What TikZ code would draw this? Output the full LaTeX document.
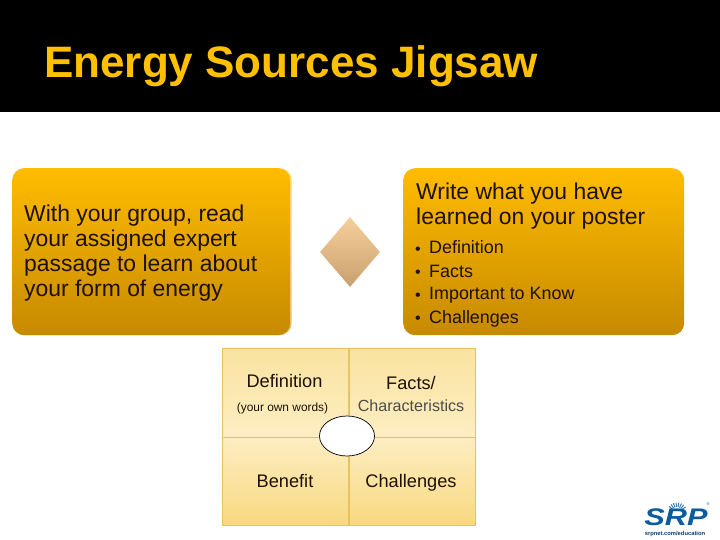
\documentclass[tikz,border=0pt]{standalone}
\usepackage{fontspec}
\setmainfont{Liberation Sans}
\usetikzlibrary{shapes.geometric}
\definecolor{titlegold}{HTML}{FFC000}
\definecolor{boxtop}{HTML}{FFBC00}
\definecolor{boxbottom}{HTML}{C68A00}
\definecolor{inktext}{HTML}{1E1005}
\definecolor{gridline}{HTML}{E6C25A}
\definecolor{srpblue}{HTML}{0B5C9E}
\definecolor{celltop}{HTML}{FAE3A0}
\definecolor{cellmid}{HTML}{FDEEC2}
\definecolor{celllow}{HTML}{F8D97F}
\definecolor{linktop}{HTML}{F6D09A}
\definecolor{linkbottom}{HTML}{C8A070}
\tikzset{
  goldbox/.style={rounded corners=12pt, top color=boxtop, bottom color=boxbottom, draw=none, inner sep=0pt,
    minimum height=167pt, anchor=north west},
  gridcell/.style 2 args={draw=gridline, line width=0.8pt, top color=#1, bottom color=#2, inner sep=0pt,
    minimum width=126pt, minimum height=88.5pt, anchor=north west},
  boxtext/.style={anchor=north west, inner sep=0pt, align=left, text=inktext},
  celltext/.style={anchor=base, inner sep=0pt, text=inktext, font=\fontsize{18.2}{20}\selectfont},
  listtext/.style={anchor=base west, inner sep=0pt, text=inktext, font=\fontsize{17.9}{20}\selectfont},
}
\begin{document}
\begin{tikzpicture}[x=1pt, y=-1pt]
  \useasboundingbox (0,0) rectangle (720,540);
  \fill[white] (0,0) rectangle (720,540);
  \fill[black] (0,0) rectangle (720,112);
  \node[anchor=base west, inner sep=0pt, text=titlegold, font=\fontsize{44}{48}\selectfont\bfseries] (title) at (44,78) {Energy Sources Jigsaw};

  % left box with its thin back edge
  \node[goldbox, minimum width=279pt, top color=boxtop!55!white, bottom color=boxbottom!55!white] (leftback) at (12.5,168) {};
  \node[goldbox, minimum width=278pt] (leftbox) at (12,168) {};
  \node[boxtext, font=\fontsize{22.9}{25}\selectfont] (lefttext) at (24,205)
    {With your group, read\\your assigned expert\\passage to learn about\\your form of energy};

  \node[diamond, aspect=0.86, minimum width=60pt, minimum height=70pt, inner sep=0pt,
    top color=linktop, bottom color=linkbottom] (link) at (350,252) {};

  % right box
  \node[goldbox, minimum width=281pt] (rightbox) at (403,168) {};
  \node[boxtext, font=\fontsize{22.9}{25}\selectfont] (righthead) at (416,182.5)
    {Write what you have\\learned on your poster};
  \foreach \name/\ypos/\word in {defn/254/Definition, facts/277/Facts, know/299.5/Important to Know, chall/323/Challenges} {
    \node[listtext] (\name) at (429,\ypos) {\word};
    \node[listtext, anchor=base] (\name dot) at (418,\ypos+0.5) {\fontsize{16}{16}\selectfont•};
  }

  % four square poster
  \node[gridcell={celltop}{cellmid}] (celldef) at (222,348) {};
  \node[gridcell={celltop}{cellmid}] (cellfact) at (348.5,348) {};
  \node[gridcell={cellmid}{celllow}] (cellben) at (222,436.5) {};
  \node[gridcell={cellmid}{celllow}] (cellchal) at (348.5,436.5) {};
  \node[celltext] (deftext) at (284.5,387.5) {Definition};
  \node[celltext, font=\fontsize{11.9}{14}\selectfont] (ownwords) at (282.5,411) {(your own words)};
  \node[celltext] (facttext) at (411,389) {Facts/};
  \node[celltext, text=black!70, font=\fontsize{16.1}{20}\selectfont] (chartext) at (411,411.5) {Characteristics};
  \node[celltext] (bentext) at (285,487.5) {Benefit};
  \node[celltext] (chaltext) at (411,487.5) {Challenges};
  \node[ellipse, draw=black, line width=0.7pt, fill=white, minimum width=55pt, minimum height=40pt, inner sep=0pt] (centre) at (347,436) {};

  % logo
  \foreach \ang in {35,50,...,145}
    \draw[srpblue!80, line width=1pt] (677,513) ++(\ang:6pt) -- ++(\ang:4.5pt);
  \node[anchor=base, inner sep=0pt, xscale=1.28, text=srpblue, font=\fontsize{24}{24}\selectfont\bfseries\itshape] (srplogo) at (676,525) {SRP};
  \node[inner sep=0pt, text=srpblue, font=\fontsize{4}{4}\selectfont] (srpmark) at (708,504) {®};
  \node[inner sep=0pt, text=srpblue!70!black, font=\fontsize{5.8}{8}\selectfont\bfseries] (srpweb) at (675,534) {srpnet.com/education};
\end{tikzpicture}
\end{document}
